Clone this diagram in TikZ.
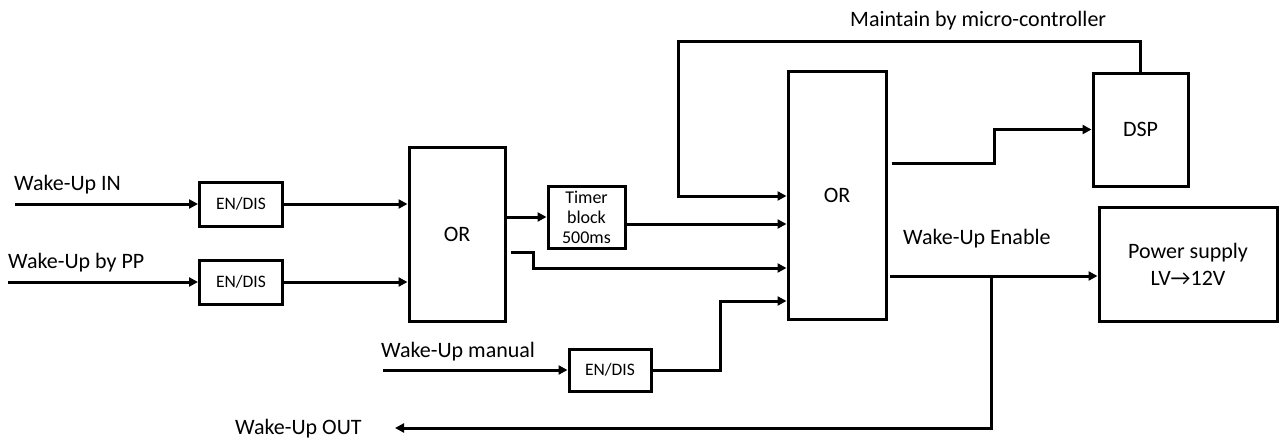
\documentclass[tikz,border=0pt]{standalone}
\usepackage{fontspec}
\setmainfont{Carlito}
\usetikzlibrary{arrows.meta,calc}
\begin{document}
\begin{tikzpicture}[x=1pt,y=-1pt,
  box/.style={draw,line width=3pt,rectangle,inner sep=0pt,font=\fontsize{22}{26}\selectfont},
  enbox/.style={box,minimum width=83pt,minimum height=44pt,font=\fontsize{17.5}{20}\selectfont},
  arr/.style={line width=3pt,-{Triangle[length=9pt,width=9pt]}},
  lbl/.style={font=\fontsize{22}{26}\selectfont,inner sep=0pt}]
\useasboundingbox (0,0) rectangle (1284,439);
% blocks
\node[enbox] (en1) at (241,204) {EN/DIS};
\node[enbox] (en2) at (241,282) {EN/DIS};
\node[enbox,minimum width=82pt,minimum height=42pt] (en3) at (610,370) {EN/DIS};
\node[box,minimum width=96pt,minimum height=174pt] (or1) at (457,234) {OR};
\node[box,minimum width=77pt,minimum height=62pt,align=center,font=\fontsize{18}{20}\selectfont] (timer) at (586.5,217) {Timer\\block\\500ms};
\node[box,minimum width=98pt,minimum height=248pt] (or2) at (837,195) {OR};
\node[box,minimum width=95pt,minimum height=113pt] (dsp) at (1140.5,129.5) {DSP};
\node[box,minimum width=178pt,minimum height=114pt,align=center,font=\fontsize{22}{27}\selectfont] (ps) at (1188,264) {Power supply\\LV\textrightarrow12V};
% labels
\node[lbl,anchor=base west] (lin) at (14,190) {Wake-Up IN};
\node[lbl,anchor=base west] (lpp) at (8,268) {Wake-Up by PP};
\node[lbl,anchor=base west] (lmc) at (850,27) {Maintain by micro-controller};
\node[lbl,anchor=base west] (len) at (903,244) {Wake-Up Enable};
\node[lbl,anchor=base west] (lman) at (381,357) {Wake-Up manual};
\node[lbl,anchor=base west] (lout) at (235,434) {Wake-Up OUT};
% coordinates
\coordinate (in1) at (15,204);
\coordinate (in2) at (8,282);
\coordinate (in3) at (383,370);
\coordinate (fbk) at (678,196);
\coordinate (we) at (890,276);
\coordinate (br) at (991,276);
\coordinate (outend) at (395,428);
% connectors
\draw[arr] (in1) -- (en1.west);
\draw[arr] (in2) -- (en2.west);
\draw[arr] (in3) -- (en3.west);
\draw[arr] (en1.east) -- (or1.west |- en1.east);
\draw[arr] (en2.east) -- (or1.west |- en2.east);
\draw[arr] ($(or1.east)+(0,-17)$) -- (timer.west);
\draw[arr] ($(timer.east)+(0,7)$) -- ($(or2.west |- timer.east)+(0,7)$);
\draw[arr] ($(or1.east)+(4,18)$) -- ++(23,0) -- ++(0,16) -- ($(or2.west |- or1.east)+(0,34)$);
\draw[arr] (dsp.north) -- ++(0,-30) -| (fbk) -- (or2.west |- fbk);
\draw[arr] ($(or2.east)+(4,-32)$) -- ++(103,0) |- (dsp.west);
\draw[arr] (en3.east) -- ++(68,0) |- ($(or2.west)+(0,106)$);
\draw[arr] (we) -- (ps.west |- we);
\draw[arr] (br) |- (outend);
\end{tikzpicture}
\end{document}
